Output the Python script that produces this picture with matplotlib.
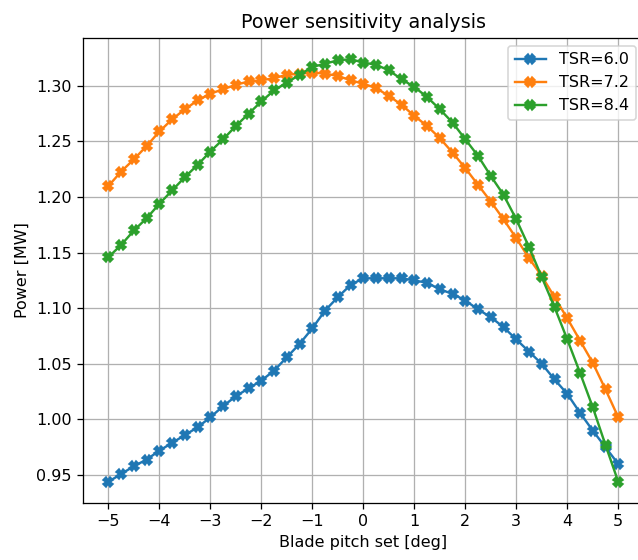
import numpy as np
import matplotlib
matplotlib.use("Agg")
import matplotlib.pyplot as plt

# blade pitch settings, 0.25 deg step
pitch = np.arange(-5, 5.01, 0.25)

tsr_labels = ["TSR=6.0", "TSR=7.2", "TSR=8.4"]

power_tsr60 = [0.944, 0.951, 0.958, 0.964, 0.972, 0.979, 0.986, 0.993, 1.002, 1.012,
               1.021, 1.028, 1.035, 1.044, 1.056, 1.068, 1.082, 1.098, 1.110, 1.121,
               1.127, 1.127, 1.127, 1.127, 1.125, 1.123, 1.117, 1.113, 1.107, 1.099,
               1.092, 1.083, 1.072, 1.061, 1.050, 1.036, 1.023, 1.006, 0.990, 0.975,
               0.960]

power_tsr72 = [1.210, 1.223, 1.234, 1.246, 1.259, 1.270, 1.279, 1.287, 1.293, 1.297,
               1.301, 1.304, 1.305, 1.307, 1.310, 1.311, 1.312, 1.311, 1.309, 1.305,
               1.302, 1.298, 1.291, 1.283, 1.273, 1.264, 1.253, 1.240, 1.226, 1.211,
               1.196, 1.180, 1.163, 1.145, 1.129, 1.110, 1.091, 1.071, 1.051, 1.027,
               1.002]

power_tsr84 = [1.146, 1.157, 1.170, 1.181, 1.194, 1.206, 1.218, 1.229, 1.241, 1.252,
               1.264, 1.275, 1.286, 1.296, 1.303, 1.310, 1.317, 1.320, 1.323, 1.324,
               1.321, 1.319, 1.314, 1.306, 1.299, 1.290, 1.279, 1.267, 1.252, 1.237,
               1.219, 1.202, 1.180, 1.155, 1.128, 1.101, 1.072, 1.042, 1.011, 0.977,
               0.944]

# reference looks rendered at a slightly higher dpi -> scale everything ~1.15
DPI = 115
fig = plt.figure(figsize=(638 / DPI, 560 / DPI), dpi=DPI)
ax = fig.add_subplot(111)

for vals, lab in zip([power_tsr60, power_tsr72, power_tsr84], tsr_labels):
    ax.plot(pitch, vals, marker="X", label=lab)

ax.set_xticks(np.arange(-5, 6, 1))
ax.grid(True)
ax.set_title("Power sensitivity analysis")
ax.set_xlabel("Blade pitch set [deg]")
ax.set_ylabel("Power [MW]")
ax.legend(loc="upper right")

# reference is cropped slightly on the right, so the axes run past the edge
plt.subplots_adjust(left=0.130, right=1.009, top=0.932, bottom=0.102)
plt.savefig("out.png", dpi=DPI)
